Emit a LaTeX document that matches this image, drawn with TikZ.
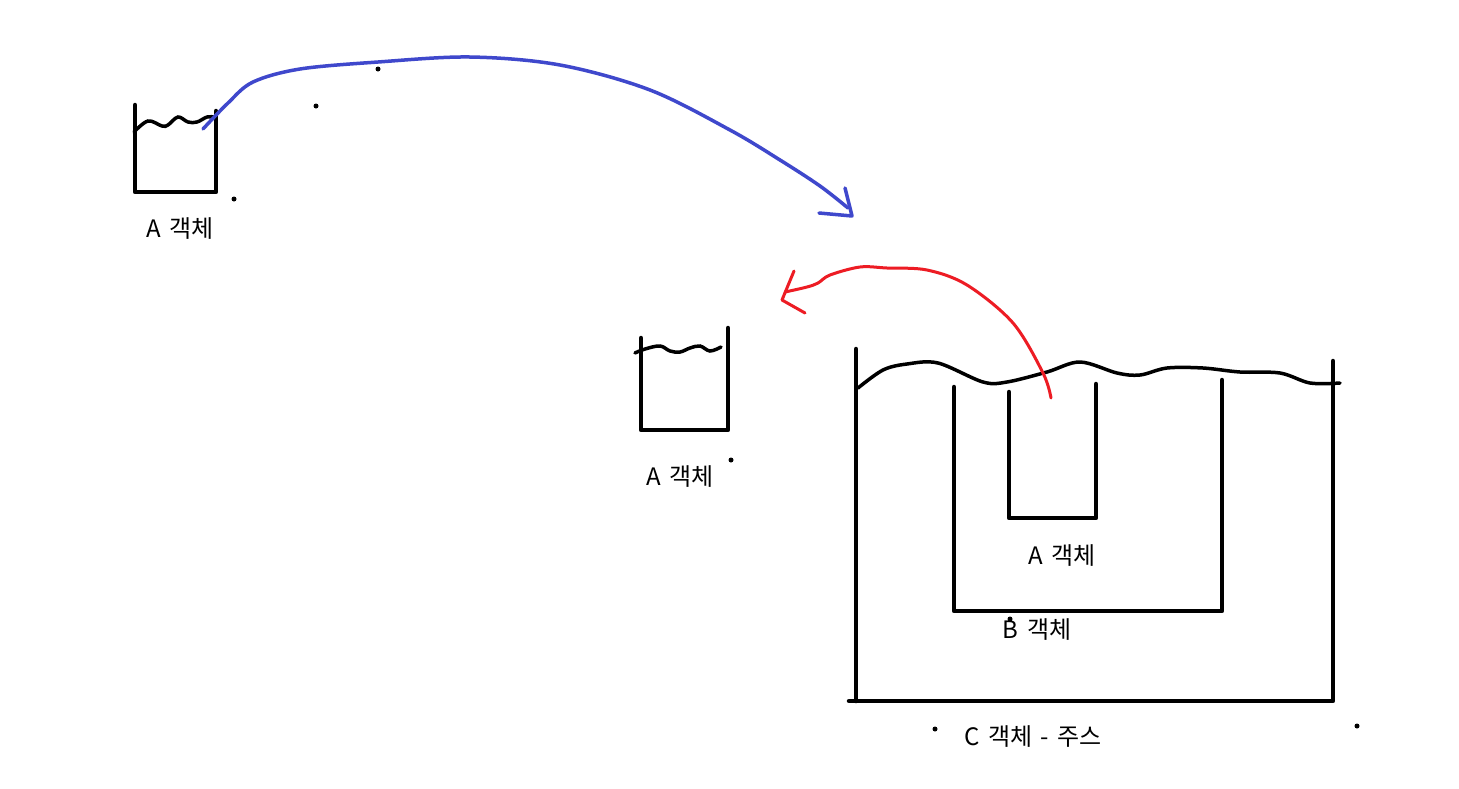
\documentclass[tikz,border=0pt]{standalone}
\usepackage{fontspec}
\newfontfamily\kr{Noto Sans CJK KR}[WordSpace={1.6,0,0}]
\definecolor{pblue}{RGB}{63,72,204}
\definecolor{pred}{RGB}{237,28,36}
\begin{document}
\begin{tikzpicture}[x=1pt,y=-1pt,
  wall/.style={line width=4.5pt,line cap=round,line join=round},
  wave/.style={line width=3.5pt,line cap=round},
  bluepen/.style={pblue,line width=3.5pt,line cap=round,line join=round},
  redpen/.style={pred,line width=3pt,line cap=round,line join=round},
  lbl/.style={font=\kr\fontsize{24}{28}\selectfont,inner sep=0pt},
  speck/.style={fill=black}]
\useasboundingbox[fill=white] (0,0) rectangle (1459,788);
% beaker A (top left)
\draw[wall] (135,105) -- (135,192) -- (216,192) -- (216,111);
\draw[wave] plot[smooth,tension=0.6] coordinates {(134,132) (148,121) (162,126) (168,125) (178,117) (188,122) (197,122) (207,117) (214,117)};
\node[lbl] (la1) at (180,229) {A 객체};
% beaker A (middle)
\draw[wall] (641,338) -- (641,430) -- (728,430) -- (728,328);
\draw[wave] plot[smooth,tension=0.6] coordinates {(635,353) (645,349) (660,346) (670,351) (680,352) (690,348) (700,346) (710,351) (721,347)};
\node[lbl] (la2) at (680,477) {A 객체};
% container C
\draw[wall] (856,349) -- (856,701);
\draw[wall] (849,701) -- (1333,701) -- (1333,361);
\draw[wave] plot[smooth,tension=0.55] coordinates {(858,388) (883,370) (907,364) (938,363) (983,382) (1007,382) (1047,372) (1080,362) (1117,373) (1140,375) (1167,368) (1203,368) (1240,372) (1280,373) (1310,383) (1340,383)};
\node[lbl] (lc) at (1033,736) {C 객체 - 주스};
% container B
\draw[wall] (954,387) -- (954,611) -- (1222,611) -- (1222,380);
\node[lbl] (lb) at (1037,629) {B 객체};
% inner A
\draw[wall] (1009,392) -- (1009,518) -- (1096,518) -- (1096,384);
\node[lbl] (la3) at (1062,556) {A 객체};
% blue arrow
\coordinate (bs) at (203,129);
\coordinate (bt) at (852,216);
\draw[bluepen] plot[smooth,tension=0.55] coordinates {(bs) (228,103) (253,82) (300,69) (378,62) (470,57) (560,65) (650,90) (730,130) (780,160) (820,186) (848,208)};
\draw[bluepen] (845,188) -- (bt) -- (819,213);
% red arrow
\coordinate (rs) at (1051,398);
\coordinate (rt) at (782,300);
\draw[redpen] plot[smooth,tension=0.55] coordinates {(rs) (1043,373) (1013,323) (967,285) (927,270) (887,268) (860,267) (830,275) (818,283) (807,287) (785,292)};
\draw[redpen] (794,271) -- (rt) -- (805,313);
% stray specks
\foreach \p in {(234,199),(316,106),(378,69),(731,460),(935,729),(1357,726),(1010,619)}
  \fill[speck] \p circle (2.5);
\end{tikzpicture}
\end{document}
